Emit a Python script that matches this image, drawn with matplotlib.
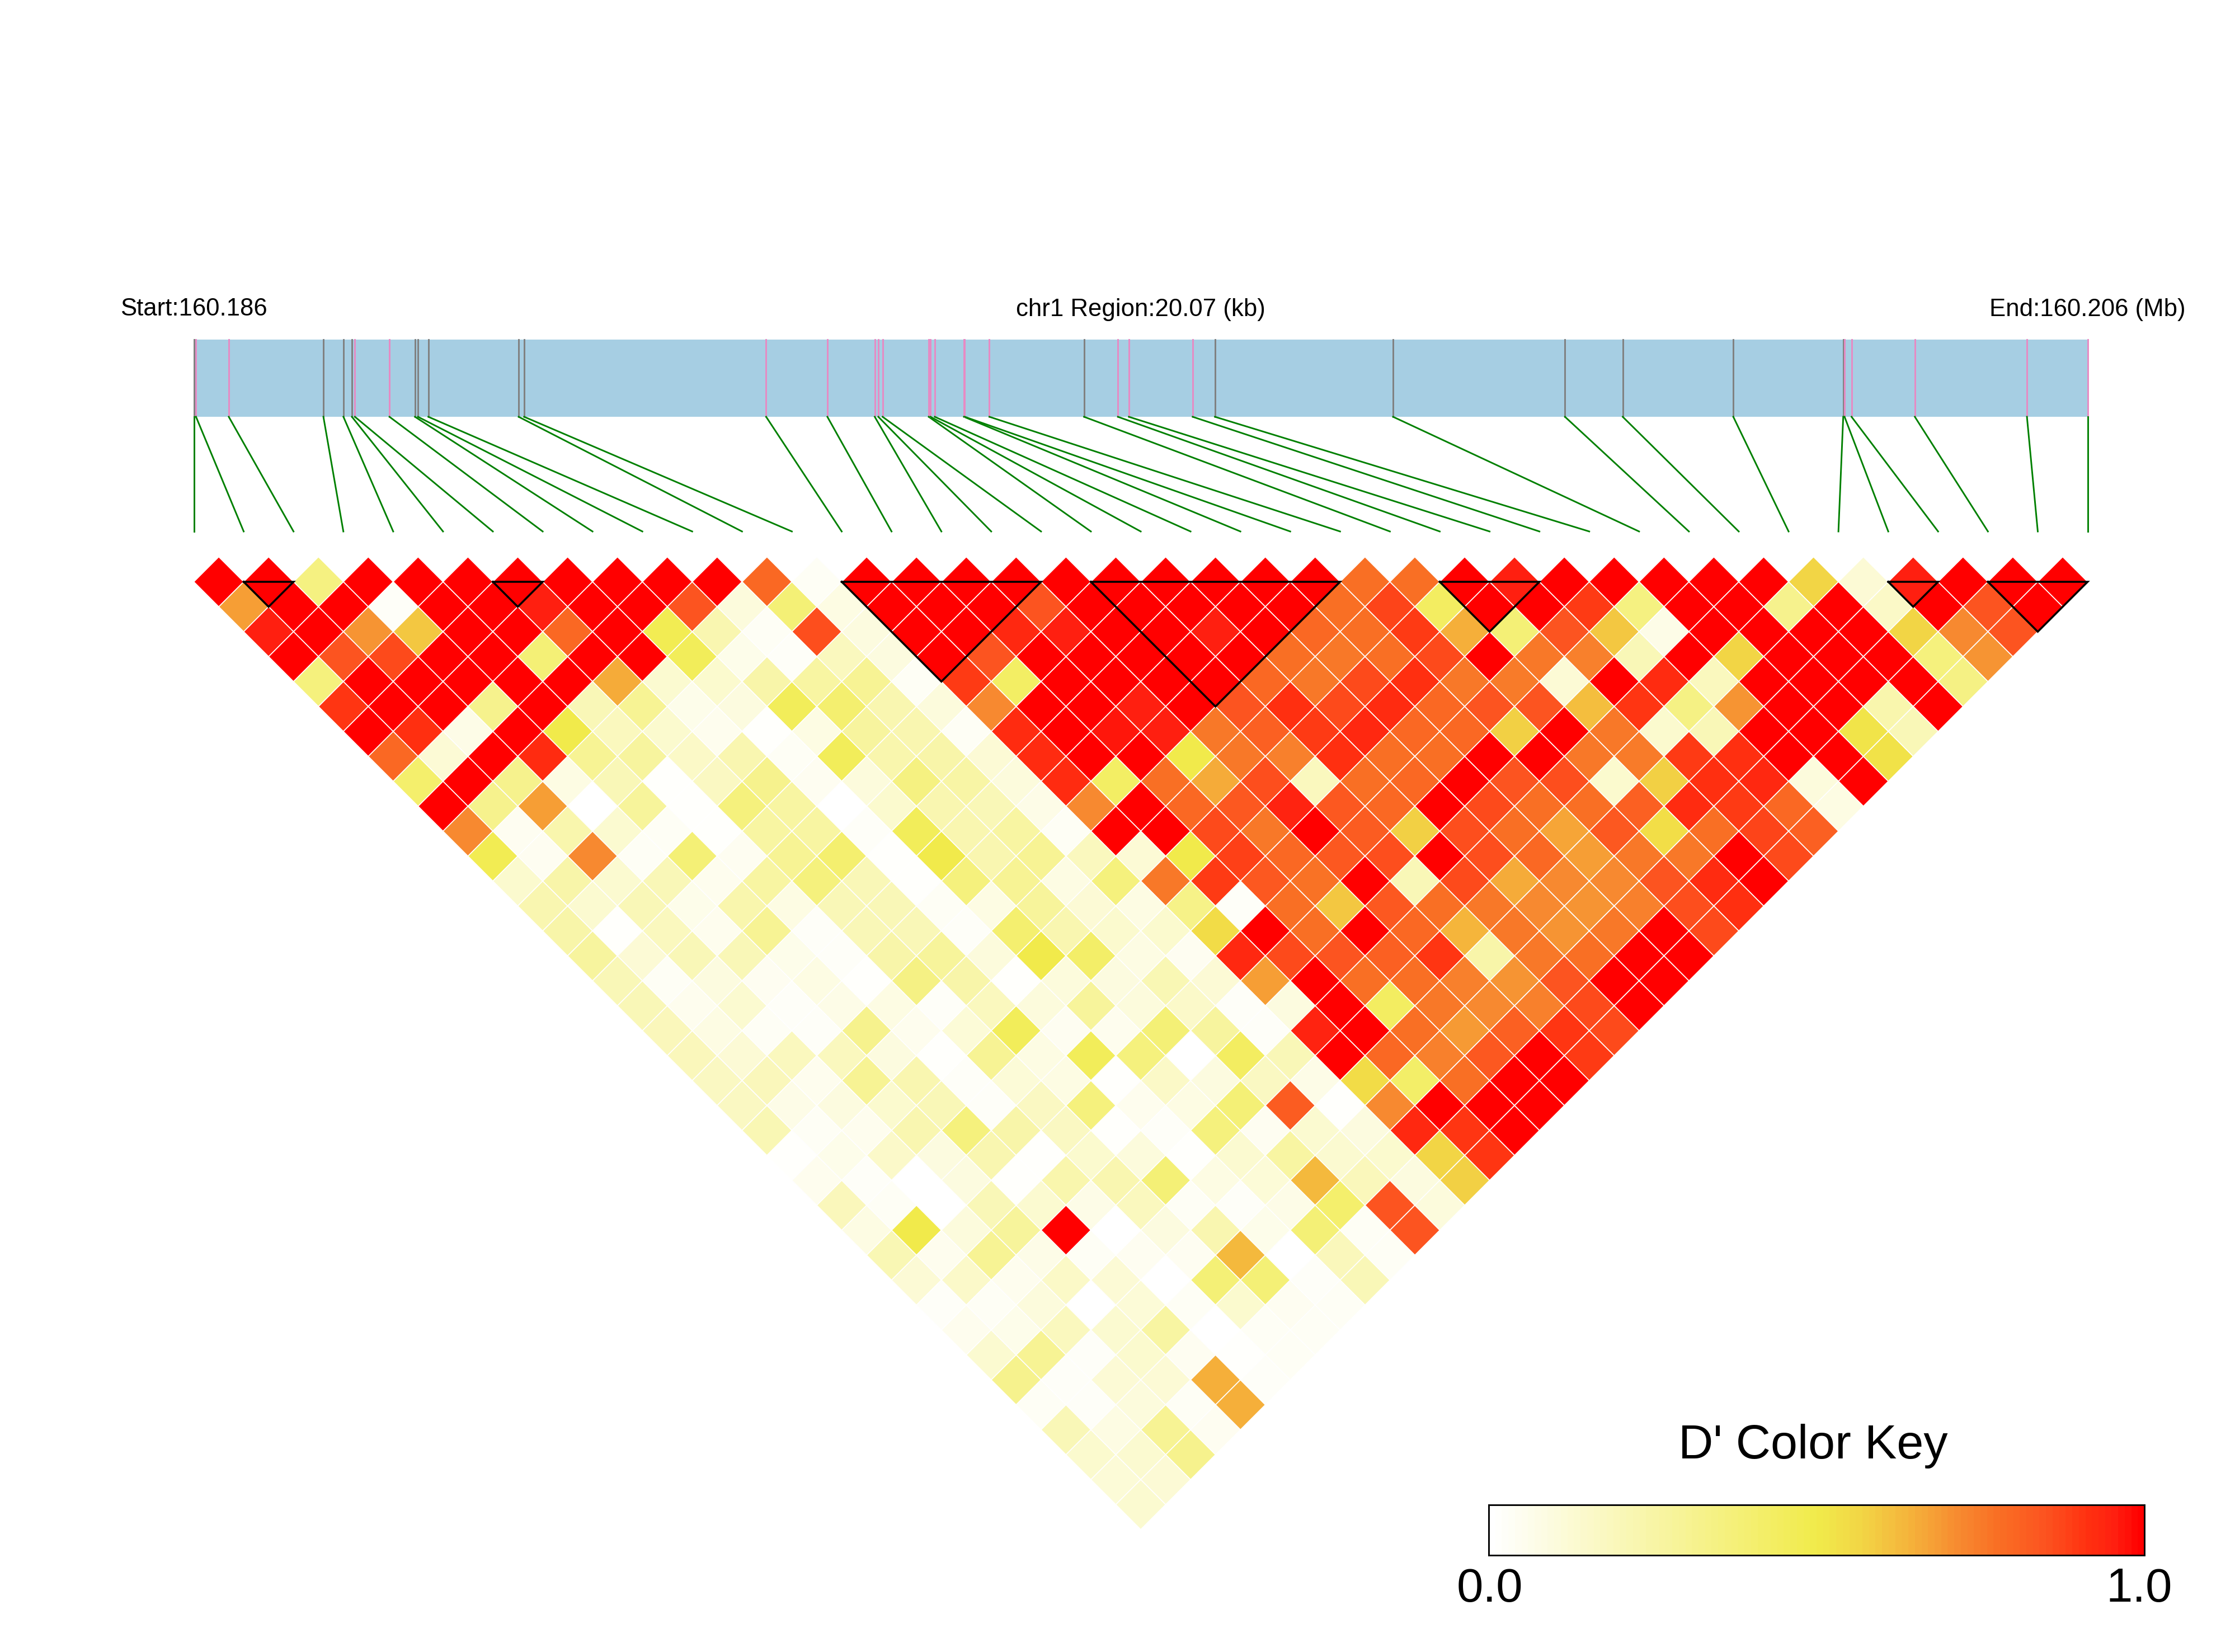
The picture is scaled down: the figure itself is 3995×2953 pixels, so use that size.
import matplotlib
matplotlib.use("Agg")
import matplotlib.pyplot as plt
from matplotlib.collections import PolyCollection
from matplotlib.colors import LinearSegmentedColormap
import numpy as np

plt.rcParams['font.family'] = ['Liberation Sans', 'DejaVu Sans']

# SNP positions in kb from the region start, and their type on the gene bar
snp_kb = [0.00, 0.023, 0.370, 1.373, 1.585, 1.675, 1.707, 2.073, 2.343, 2.375,
          2.485, 3.442, 3.500, 6.065, 6.714, 7.216, 7.254, 7.299, 7.788, 7.807,
          7.852, 8.161, 8.170, 8.431, 9.434, 9.793, 9.909, 10.585, 10.821, 12.709,
          14.531, 15.143, 16.315, 17.480, 17.494, 17.568, 18.239, 19.427, 20.07]
snp_gray = [0, 3, 4, 5, 8, 9, 10, 11, 12, 24, 28, 29, 30, 31, 32, 33]
region_kb = 20.07

# haplotype blocks, first and last marker
blocks = [(1, 2), (6, 7), (13, 17), (18, 23), (25, 27), (34, 35), (36, 38)]

# D' in percent, one list per distance between markers
ld_00 = [100,100,35,100,100,100,100,100,100,100,100,80,3,100,100,100,100,100,100,100,100,100,100,78,78,100,96,100,100,100,100,100,57,12,96,100,100,100]
ld_01 = [68,100,100,2,100,100,96,100,100,85,10,38,8,100,100,100,85,100,100,100,100,100,78,88,44,100,100,90,35,100,100,32,100,16,100,85,100]
ld_02 = [96,100,70,60,100,100,80,100,48,22,3,86,9,100,100,94,96,100,100,96,100,80,78,90,65,38,85,60,7,100,100,100,100,57,72,85]
ld_03 = [100,85,87,100,100,38,100,100,46,6,2,18,9,100,85,100,100,100,100,100,78,76,78,87,100,76,74,20,100,57,100,100,100,36,70]
ld_04 = [36,100,100,100,100,100,66,13,14,24,26,30,3,90,43,100,100,100,100,80,76,87,92,76,75,12,100,93,18,100,100,100,100,34]
ld_05 = [91,100,100,32,100,20,30,6,9,46,40,22,10,72,100,100,96,100,85,92,87,93,80,85,85,62,91,34,70,100,100,23,100]
ld_06 = [100,92,7,100,50,18,14,5,1,8,27,22,3,93,100,97,96,76,82,90,94,80,80,58,100,76,14,20,100,100,52,20]
ld_07 = [80,12,100,93,30,27,16,22,3,46,23,24,12,93,100,100,50,76,74,92,78,78,100,100,76,75,90,92,100,100,53]
ld_08 = [41,100,32,8,20,1,17,32,4,10,35,25,10,93,43,78,66,86,18,78,80,100,85,86,14,58,92,94,10,100]
ld_09 = [100,32,68,0,28,1,36,26,0,14,22,20,7,72,100,80,84,95,84,80,100,87,78,78,82,93,90,80,8]
ld_10 = [72,4,23,13,3,1,26,26,2,46,22,26,3,100,100,87,76,100,83,58,86,78,67,84,54,78,88,82]
ld_11 = [48,4,72,3,38,4,30,40,1,50,22,30,18,12,50,89,80,84,86,100,86,80,68,76,76,100,87]
ld_12 = [14,24,13,20,5,26,36,20,1,36,30,8,36,76,90,84,77,100,20,87,66,72,72,85,93,100]
ld_13 = [22,13,20,6,23,8,20,20,3,8,28,12,8,33,2,78,60,84,78,76,72,70,74,86,92]
ld_14 = [24,1,18,5,30,2,20,20,2,40,22,14,14,55,100,78,100,80,64,76,70,76,100,87]
ld_15 = [27,12,20,20,6,2,24,28,10,50,42,8,4,94,87,85,82,91,24,76,78,100,100]
ld_16 = [20,3,9,4,8,1,34,24,1,10,9,21,12,68,100,78,78,74,70,85,100,100]
ld_17 = [20,5,13,2,7,8,2,18,10,28,10,15,2,9,100,44,76,72,74,87,100]
ld_18 = [19,8,3,2,32,5,11,46,4,5,38,27,2,95,100,78,69,82,91,87]
ld_19 = [19,12,18,18,9,1,30,8,46,36,0,44,20,100,80,74,84,100,90]
ld_20 = [17,19,5,30,22,2,11,8,1,16,9,17,7,55,42,78,100,100]
ld_21 = [17,7,9,14,20,2,17,36,5,8,38,83,1,72,100,100,100]
ld_22 = [21,3,5,22,36,24,17,1,2,36,4,13,9,94,91,100]
ld_23 = [1,6,15,9,22,1,14,10,1,13,26,13,14,57,91]
ld_24 = [5,2,0,9,1,23,22,38,8,11,63,19,9,58]
ld_25 = [19,3,0,20,13,7,18,3,2,7,41,85,10]
ld_26 = [8,50,10,28,100,0,9,22,6,38,3,85]
ld_27 = [21,5,30,7,3,4,4,63,0,19,3]
ld_28 = [12,15,5,16,12,0,38,38,2,20]
ld_29 = [2,3,10,0,11,3,14,4,3]
ld_30 = [5,6,18,13,26,0,3,3]
ld_31 = [13,30,2,14,4,1,3]
ld_32 = [32,2,12,12,65,2]
ld_33 = [3,2,10,3,65]
ld_34 = [20,8,30,4]
ld_35 = [14,13,32]
ld_36 = [11,12]
ld_37 = [13]
ld_rows = [ld_00, ld_01, ld_02, ld_03, ld_04, ld_05, ld_06, ld_07, ld_08, ld_09,
           ld_10, ld_11, ld_12, ld_13, ld_14, ld_15, ld_16, ld_17, ld_18, ld_19,
           ld_20, ld_21, ld_22, ld_23, ld_24, ld_25, ld_26, ld_27, ld_28, ld_29,
           ld_30, ld_31, ld_32, ld_33, ld_34, ld_35, ld_36, ld_37]

W, H = 3995, 2953
left_px, pitch_px = 346.5, 89.08
top_px, row_px = 1040, 44.58

cmap = LinearSegmentedColormap.from_list(
    'ld', [(0, '#FFFFFF'), (0.5, '#F1EB4B'), (0.57, '#F2D545'), (0.65, '#F5B03A'),
           (0.72, '#F78A30'), (0.78, '#F96F24'), (0.85, '#FC5520'), (0.92, '#FF3010'),
           (0.96, '#FF2010'), (1, '#FF0000')], N=256)

fig = plt.figure(figsize=(W / 300, H / 300), dpi=300)
# x is in markers, y is in rows of the triangle
ax = fig.add_axes([0, 0, 1, 1])
ax.set_xlim(-left_px / pitch_px, (W - left_px) / pitch_px)
ax.set_ylim((H - top_px) / row_px, -top_px / row_px)
ax.axis('off')

# the LD triangle
polys = []
vals = []
for d, row in enumerate(ld_rows):
    for k, v in enumerate(row):
        cx = k + 0.5 + d / 2
        polys.append([(cx - 0.5, d), (cx, d - 1), (cx + 0.5, d), (cx, d + 1)])
        vals.append(v / 100)
cells = PolyCollection(polys, array=np.array(vals), cmap=cmap, clim=(0, 1),
                       edgecolors='white', linewidths=0.4)
ax.add_collection(cells)

# block outlines
for a, b in blocks:
    ax.plot([a, b, (a + b) / 2, a], [0, 0, b - a, 0], color='black', lw=0.85,
            solid_joinstyle='miter', zorder=3)

# gene bar
bar_top = (607 - top_px) / row_px
bar_bottom = (745 - top_px) / row_px
link_bottom = (950 - top_px) / row_px
n_markers = len(snp_kb) - 1
ax.fill_between([0, n_markers], bar_top, bar_bottom, color='#A6CEE3', lw=0)

for i, kb in enumerate(snp_kb):
    x = kb / region_kb * n_markers
    color = '#808080' if i in snp_gray else '#E78AC3'
    ax.plot([x, x], [bar_top, bar_bottom], color=color, lw=0.7)
    ax.plot([x, i], [bar_bottom, link_bottom], color='#008000', lw=0.7)

label_y = (553 - top_px) / row_px
ax.text(0, label_y, 'Start:160.186', ha='center', va='center', fontsize=10.5)
ax.text(n_markers / 2, label_y, 'chr1 Region:20.07 (kb)', ha='center', va='center', fontsize=10.5)
ax.text(n_markers, label_y, 'End:160.206 (Mb)', ha='center', va='center', fontsize=10.5)

# colour key
key = fig.add_axes([2661 / W, 1 - 2780 / H, (3833 - 2661) / W, 90 / H])
steps = np.linspace(0, 1, 100)
key.pcolormesh(np.linspace(0, 1, 101), [0, 1], steps[None, :], cmap=cmap, vmin=0, vmax=1)
key.set_xticks([])
key.set_yticks([])
for s in key.spines.values():
    s.set_linewidth(0.7)

fig.text(3241 / W, 1 - 2585 / H, "D' Color Key", ha='center', va='center', fontsize=20.7)
fig.text(2663 / W, 1 - 2841 / H, '0.0', ha='center', va='center', fontsize=20.5)
fig.text(3824 / W, 1 - 2841 / H, '1.0', ha='center', va='center', fontsize=20.5)

fig.savefig('out.png', dpi=300)
